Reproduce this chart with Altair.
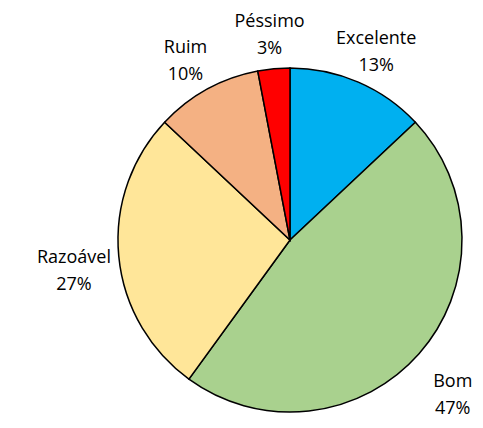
import altair as alt
import pandas as pd

categories = ["Excelente", "Bom", "Razoável", "Ruim", "Péssimo"]
values = [13, 47, 27, 10, 3]
colors = ["#00B0F0", "#A9D18E", "#FFE699", "#F4B183", "#FF0000"]

df = pd.DataFrame({"cat": categories, "val": values, "order": list(range(len(categories)))})
df["label"] = [f"{c}\n{v}%" for c, v in zip(categories, values)]

base = alt.Chart(df).encode(
    theta=alt.Theta("val:Q", stack=True),
    order=alt.Order("order:Q"),
)
pie = base.mark_arc(stroke="black", strokeWidth=1.5, outerRadius=172).encode(
    color=alt.Color("cat:N", scale=alt.Scale(domain=categories, range=colors), legend=None)
)
text = base.mark_text(
    radius=217, dy=-2, font="Open Sans", fontSize=18, lineBreak="\n", lineHeight=27, color="black"
).encode(text="label:N")

chart = (pie + text).properties(
    width=344,
    height=344,
    padding={"left": 110, "top": 60, "right": 13, "bottom": 8},
    autosize="none",
).configure_view(stroke=None)

chart.save("out.html", embed_options={"renderer": "svg", "actions": False})
